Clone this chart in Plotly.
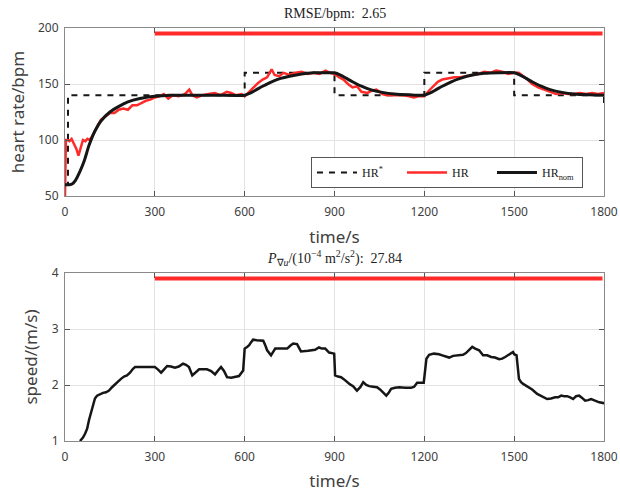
import plotly.graph_objects as go

# ---------------- data ----------------
ref_t = [0, 10, 10, 600, 600, 900, 900, 1200, 1200, 1500, 1500, 1800, 1800]
ref_hr = [60, 60, 140, 140, 160, 160, 140, 140, 160, 160, 140, 140, 130]

nom_t = [0, 15, 25, 35, 50, 65, 80, 100, 120, 150, 180, 210, 250, 300, 350, 400, 500, 600,
         620, 640, 660, 690, 720, 750, 790, 830, 870, 900, 920, 940, 960, 990, 1020, 1060,
         1100, 1150, 1200, 1220, 1240, 1260, 1290, 1320, 1360, 1400, 1450, 1500, 1520, 1540,
         1560, 1590, 1620, 1660, 1700, 1750, 1800]
nom_hr = [60, 60, 61, 64, 72, 82, 95, 108, 117, 125, 130, 134, 137, 139, 140, 140, 140, 140,
          142, 145, 148, 152, 155, 157, 159, 160, 160, 160, 158, 155, 152, 148, 145, 142.5,
          141, 140.3, 140, 142, 145, 148, 152, 155, 158, 159.5, 160, 160, 158, 155,
          152, 148, 145, 142.5, 141, 140.3, 140]

hr_t = [0, 3, 8, 15, 22, 30, 38, 45, 52, 60, 68, 75, 82, 90, 100, 110, 120, 135, 150, 165,
        180, 195, 210, 225, 240, 255, 270, 285, 300, 315, 330, 345, 360, 380, 400, 415, 425,
        440, 460, 480, 500, 520, 540, 555, 570, 590, 600, 615, 630, 645, 660, 675, 690, 700,
        715, 730, 750, 770, 790, 810, 830, 850, 870, 885, 900, 915, 930, 945, 960, 975, 990,
        1010, 1025, 1040, 1060, 1075, 1090, 1110, 1130, 1150, 1165, 1180, 1200, 1215, 1230,
        1245, 1260, 1280, 1300, 1320, 1340, 1360, 1380, 1400, 1420, 1440, 1460, 1480, 1500,
        1515, 1530, 1545, 1560, 1580, 1600, 1620, 1640, 1660, 1680, 1700, 1720, 1740, 1760,
        1780, 1800]
hr_hr = [50, 100, 100, 99, 101, 97, 92, 86, 92, 100, 99, 101, 100, 103, 108, 113, 118, 121, 124, 124,
         127, 128, 127, 131, 131, 133, 135, 136, 138, 139, 141, 137, 140, 139, 141, 145, 140,
         138, 140, 141, 142, 140, 143, 142, 140, 141, 139, 143, 147, 151, 154, 156, 163, 158,
         157, 160, 158, 160, 161, 159, 160, 159, 162, 160, 159, 156, 154, 150, 147, 148, 143,
         142, 144, 145, 141, 140, 140, 140, 140, 139, 138, 139, 139, 144, 148,
         152, 154, 155, 156, 156, 157, 158, 159, 161, 160, 162, 161, 159, 160,
         160, 157, 154, 150, 147, 145, 143, 141, 142, 141, 141, 142, 141, 142,
         141, 142]

sp_t = [50, 60, 67, 74, 80, 87, 94, 100, 107, 117, 127, 137, 147, 157, 167, 177, 187, 197, 207,
        217, 227, 234, 241, 260, 287, 300, 310, 321, 331, 341, 354, 367, 380, 394, 404, 414, 425,
        436, 448, 461, 474, 488, 501, 511, 521, 531, 541, 555, 568, 581, 595, 600, 608, 615, 621,
        628, 640, 662, 668, 675, 688, 702, 722, 742, 752, 762, 775, 788, 812, 835, 848, 858,
        869, 882, 899, 902, 912, 922, 932, 942, 952, 962, 975, 986, 996, 1006, 1016, 1029,
        1042, 1052, 1062, 1073, 1081, 1089, 1102, 1116, 1136, 1156, 1166, 1176, 1186, 1198,
        1207, 1216, 1232, 1249, 1260, 1270, 1283, 1296, 1312, 1329, 1339, 1349, 1360, 1370,
        1383, 1396, 1410, 1423, 1436, 1450, 1460, 1470, 1483, 1496, 1500, 1508, 1516, 1523,
        1530, 1537, 1543, 1560, 1577, 1593, 1610, 1623, 1637, 1647, 1657, 1667, 1677, 1687,
        1697, 1707, 1717, 1727, 1737, 1747, 1757, 1770, 1784, 1797, 1800]
sp_v = [1.0, 1.06, 1.13, 1.22, 1.37, 1.52, 1.66, 1.76, 1.81, 1.84, 1.86, 1.87, 1.90, 1.96, 2.02, 2.06,
        2.11, 2.15, 2.17, 2.22, 2.29, 2.32, 2.32, 2.32, 2.31, 2.32, 2.28, 2.22, 2.28, 2.34, 2.33,
        2.31, 2.33, 2.38, 2.36, 2.32, 2.17, 2.22, 2.28, 2.28, 2.28, 2.25, 2.19, 2.26, 2.32, 2.25,
        2.14, 2.13, 2.14, 2.16, 2.26, 2.65, 2.68, 2.71, 2.76, 2.81, 2.80, 2.79, 2.72, 2.62, 2.53,
        2.65, 2.65, 2.65, 2.70, 2.74, 2.73, 2.60, 2.61, 2.63, 2.67, 2.65, 2.65, 2.58, 2.56,
        2.17, 2.15, 2.14, 2.10, 2.05, 2.01, 1.98, 1.90, 1.96, 2.05, 2.00, 1.98, 1.97, 1.96, 1.92,
        1.87, 1.81, 1.86, 1.93, 1.95, 1.96, 1.95, 1.95, 1.97, 2.04, 2.04, 2.04, 2.47, 2.54, 2.56,
        2.55, 2.53, 2.51, 2.49, 2.52, 2.53, 2.54, 2.57, 2.62, 2.68, 2.65, 2.62, 2.53, 2.53, 2.50,
        2.49, 2.46, 2.47, 2.50, 2.55, 2.59, 2.55, 2.53, 2.11, 2.05, 2.02, 2.00, 1.98, 1.92, 1.84,
        1.80, 1.75, 1.76, 1.78, 1.78, 1.81, 1.80, 1.80, 1.78, 1.75, 1.80, 1.81, 1.77, 1.72, 1.73,
        1.75, 1.72, 1.69, 1.68, 1.66, 1.64, 1.63, 1.34]

bar_t = [300, 1795]
bar_hr = [195, 195]
bar_sp = [3.9, 3.9]

x_ticks = [0, 300, 600, 900, 1200, 1500, 1800]
hr_ticks = [50, 100, 150, 200]
sp_ticks = [1, 2, 3, 4]

# ---------------- figure ----------------
W, H = 620, 492
ml, mr, mt, mb = 65, 16, 28, 51
ph = H - mt - mb
top_dom = [1 - 168 / ph, 1]
bot_dom = [0, 1 - 245 / ph]

fig = go.Figure()
RED = "#ff2a2a"
BLK = "#161616"
TXT = "#404040"

fig.add_trace(go.Scatter(x=bar_t, y=bar_hr, mode="lines", line=dict(color=RED, width=4),
                         showlegend=False, xaxis="x", yaxis="y"))
fig.add_trace(go.Scatter(x=ref_t, y=ref_hr, mode="lines", name="HR<sup>*</sup>",
                         line=dict(color=BLK, width=2, dash="6px,6px"), xaxis="x", yaxis="y"))
fig.add_trace(go.Scatter(x=hr_t, y=hr_hr, mode="lines", name="HR",
                         line=dict(color=RED, width=2.5), xaxis="x", yaxis="y"))
fig.add_trace(go.Scatter(x=nom_t, y=nom_hr, mode="lines", name="HR<sub>nom</sub>",
                         line=dict(color=BLK, width=3, shape="spline", smoothing=0.6),
                         xaxis="x", yaxis="y"))

fig.add_trace(go.Scatter(x=bar_t, y=bar_sp, mode="lines", line=dict(color=RED, width=4),
                         showlegend=False, xaxis="x2", yaxis="y2"))
fig.add_trace(go.Scatter(x=sp_t, y=sp_v, mode="lines", line=dict(color=BLK, width=2.5),
                         showlegend=False, xaxis="x2", yaxis="y2"))

axis_common = dict(showline=True, linecolor="#8a8a8a", linewidth=1, mirror="ticks",
                   ticks="inside", ticklen=5, tickcolor="#555555", automargin=False,
                   showgrid=True, gridcolor="#e3e3e3", gridwidth=1, zeroline=False,
                   tickfont=dict(family="Noto Sans", size=12, color=TXT))
title_font = dict(family="Noto Sans", size=17, color=TXT)

fig.update_layout(
    width=W, height=H, margin=dict(l=ml, r=mr, t=mt, b=mb),
    paper_bgcolor="white", plot_bgcolor="white",
    xaxis=dict(domain=[0, 1], range=[0, 1800], tickvals=x_ticks, anchor="y", ticklabelstandoff=5,
               title=dict(text="time/s", font=title_font, standoff=11), **axis_common),
    yaxis=dict(domain=top_dom, range=[50, 200], tickvals=hr_ticks, anchor="x", ticklabelstandoff=3,
               title=dict(text="heart rate/bpm", font=title_font, standoff=9), **axis_common),
    xaxis2=dict(domain=[0, 1], range=[0, 1800], tickvals=x_ticks, anchor="y2", ticklabelstandoff=5,
                title=dict(text="time/s", font=title_font, standoff=11), **axis_common),
    yaxis2=dict(domain=bot_dom, range=[1, 4], tickvals=sp_ticks, anchor="x2", ticklabelstandoff=3,
                title=dict(text="speed/(m/s)", font=title_font, standoff=9), **axis_common),
    legend=dict(orientation="h", x=0.961, xanchor="right", y=(H - mb - 188) / ph, yanchor="bottom",
                bgcolor="white", bordercolor="#555555", borderwidth=1,
                font=dict(family="Liberation Serif", size=12, color="#222222"),
                itemwidth=40, tracegroupgap=0, entrywidth=35, entrywidthmode="pixels"),
    showlegend=True,
    annotations=[
        dict(text="RMSE/bpm:  2.65", x=0.5, xref="paper", y=1 + (mt - 13) / ph, yref="paper",
             yanchor="middle", showarrow=False,
             font=dict(family="Liberation Serif", size=14, color="#222222")),
        dict(text="<i>P</i><sub>∇<i>u</i></sub>/(10<sup>−4</sup> m<sup>2</sup>/s<sup>2</sup>):  27.84",
             x=0.5, xref="paper", y=(H - mb - 258) / ph, yref="paper", yanchor="middle",
             showarrow=False,
             font=dict(family="Liberation Serif", size=14, color="#222222")),
    ],
)

fig.write_html("out.html", config={"displayModeBar": False},
               post_script="document.body.style.margin='0';")
